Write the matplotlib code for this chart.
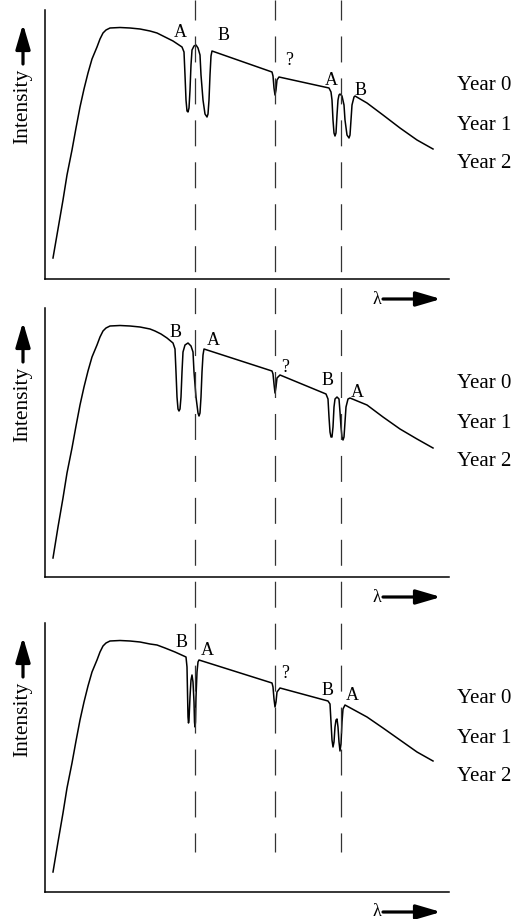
import matplotlib.pyplot as plt

plt.rcParams['font.family'] = ['Liberation Serif', 'DejaVu Serif']
plt.rcParams['lines.scale_dashes'] = False

# wavelength (arbitrary units) / intensity (arbitrary units)
rise_wl = [8, 13, 18, 22, 27, 31, 35, 39, 43, 47, 52, 55, 58, 61, 65, 75, 85, 95, 105]
rise_int = [21, 50, 79, 104, 129, 151, 172, 190, 206, 220, 232, 240, 246, 249, 251, 251.5, 251, 250, 248]

wl_0 = rise_wl + [112, 120, 128, 137,
        139, 140, 141, 142, 143, 144, 145, 146, 147, 149, 151, 153, 155, 156, 158,
        160, 162, 163, 164, 165, 166, 167,
        227, 228, 229, 230, 231, 232, 234,
        284, 286, 287, 288, 289, 290, 291, 292, 293, 294, 295, 297, 299, 300,
        302, 304, 305, 306, 307, 309, 310,
        322, 338, 355, 372, 388]
int_0 = rise_int + [246, 242, 238, 232,
         227, 204, 179, 168, 167, 171, 189, 214, 229, 233, 234, 231, 224, 204, 179,
         165, 162, 165, 179, 204, 223, 228,
         207, 203, 191, 184, 189, 199, 202,
         191, 187, 179, 159, 146, 143, 146, 164, 179, 184, 185, 183, 174, 159,
         144, 141, 144, 159, 174, 182, 183,
         176, 164, 151, 139, 130]

wl_1 = rise_wl + [110, 116, 122, 128,
        130, 131, 132, 133, 134, 135, 136, 137, 138, 140, 143, 146, 148, 149, 151,
        153, 154, 155, 156, 157, 158, 159,
        227, 228, 229, 230, 231, 232, 235,
        281, 283, 284, 285, 286, 287, 288, 289, 290, 292, 294, 295, 296, 297,
        298, 299, 300, 301, 303, 305,
        322, 338, 355, 372, 388]
int_1 = [19] + rise_int[1:] + [246, 243, 239, 234,
         228, 205, 180, 168, 166, 168, 180, 205, 225, 232, 234, 231, 225, 205, 180,
         164, 161, 164, 180, 205, 222, 228,
         206, 203, 193, 184, 190, 199, 202,
         183, 178, 160, 145, 140, 140, 150, 170, 178, 180, 178, 165, 150, 140,
         137, 140, 155, 170, 178, 179,
         172, 160, 148, 138, 129]

wl_2 = rise_wl + [112, 120, 130, 141,
        142, 142.5, 143, 143.5, 144, 145, 146, 147, 148, 149, 149.5, 150, 150.5,
        151, 152, 153, 154,
        227, 228, 229, 230, 231, 232, 235,
        283, 285, 286, 287, 288, 289, 290, 291, 292, 293, 294, 295, 296, 297,
        298, 300,
        322, 338, 355, 372, 388]
int_2 = [20] + rise_int[1:] + [247, 244, 240, 235,
         225, 200, 175, 169, 172, 195, 212, 217, 210, 190, 170, 165, 170,
         195, 220, 230, 232,
         209, 205, 193, 185, 190, 200, 204,
         191, 188, 170, 152, 145, 150, 165, 172, 173, 165, 150, 141, 148, 170,
         183, 187,
         175, 164, 152, 140, 131]

spectra = [(wl_0, int_0), (wl_1, int_1), (wl_2, int_2)]

# line labels per panel: text, wavelength, intensity (baseline)
labels = [
    [('A', 135, 242), ('B', 179, 239), ('?', 244, 214), ('A', 286, 194), ('B', 316, 184)],
    [('B', 131, 240), ('A', 168, 232), ('?', 240, 205), ('B', 283, 192), ('A', 312, 180)],
    [('B', 137, 245), ('A', 162, 237), ('?', 240, 214), ('B', 283, 197), ('A', 307, 192)],
]
years = ['Year 0', 'Year 1', 'Year 2']
year_levels = [189, 149, 111]

# reference wavelengths (dashed lines)
line_wl = [150, 230, 296]

W, H = 519, 919
fig = plt.figure(figsize=(W / 100, H / 100), dpi=100)

left, width, height = 45, 404, 269
bottoms = [279, 577, 892]
arrow_style = '-|>,head_length=0.75,head_width=0.22'

for (wl, inten), labs, bot in zip(spectra, labels, bottoms):
    ax = fig.add_axes([left / W, 1 - bot / H, width / W, height / H])
    ax.plot(wl, inten, color='black', lw=1.1)
    ax.set_xlim(0, width)
    ax.set_ylim(0, height)
    for s in ['top', 'right']:
        ax.spines[s].set_visible(False)
    for s in ['left', 'bottom']:
        ax.spines[s].set_linewidth(1.1)
    ax.set_xticks([])
    ax.set_yticks([])
    ax.patch.set_alpha(0)

    for t, x, y in labs:
        ax.text(x, y, t, fontsize=13, ha='center', va='baseline')
    for yr, y in zip(years, year_levels):
        ax.text(412, y, yr, fontsize=15, ha='left', va='baseline')

    # axis captions with arrows
    ax.text(-22, 173, 'Intensity', rotation=90, fontsize=15.5, ha='center', va='center')
    ax.annotate('', xy=(-22, 255), xytext=(-22, 215), annotation_clip=False,
                arrowprops=dict(arrowstyle=arrow_style, lw=2.3, color='black',
                                mutation_scale=20, shrinkA=0, shrinkB=0))
    ax.text(332, -20, 'λ', fontsize=13, ha='center', va='center')
    ax.annotate('', xy=(396, -20), xytext=(338, -20), annotation_clip=False,
                arrowprops=dict(arrowstyle=arrow_style, lw=2.3, color='black',
                                mutation_scale=20, shrinkA=0, shrinkB=0))

# dashed guide lines across all panels
ov = fig.add_axes([left / W, 0, width / W, 1])
ov.set_xlim(0, width)
ov.set_ylim(0, H)
ov.axis('off')
for x in line_wl:
    ov.plot([x, x], [H, H - 852], color='#333333', lw=0.9,
            linestyle=(4.3, (18.7, 11.5)))

fig.savefig('out.png', dpi=100)
